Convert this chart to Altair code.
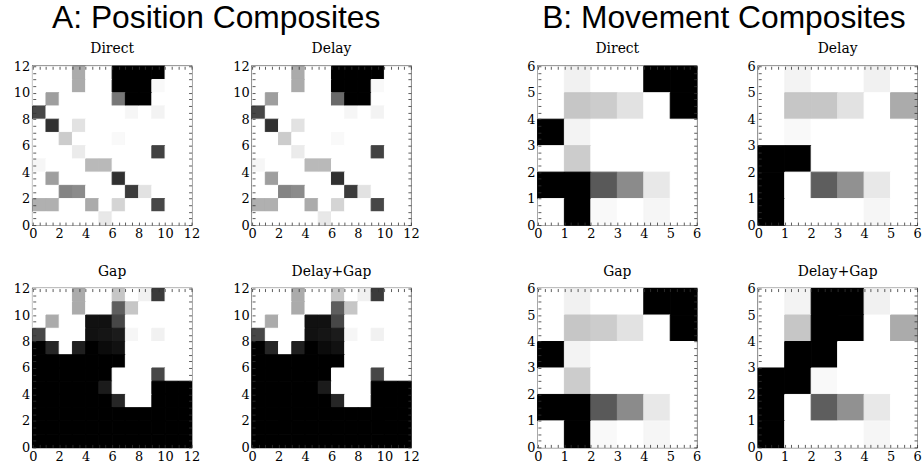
import altair as alt
import pandas as pd

# ---------------- data (rows listed from top row to bottom row) ----------------
A_direct = [
    [0, 0, 0, 0.3, 0, 0, 1, 1, 1, 1, 0, 0],
    [0, 0, 0, 0.3, 0, 0, 1, 1, 1, 0.02, 0, 0],
    [0, 0.35, 0, 0, 0, 0, 0.5, 1, 1, 0, 0, 0],
    [0.7, 0, 0, 0, 0, 0, 0, 0.03, 0, 0.04, 0, 0],
    [0, 0.8, 0, 0.1, 0, 0, 0, 0, 0, 0, 0, 0],
    [0, 0, 0.18, 0, 0, 0, 0.02, 0, 0, 0, 0, 0],
    [0, 0, 0, 0.07, 0, 0, 0, 0, 0, 0.72, 0, 0],
    [0.03, 0, 0, 0, 0.25, 0.25, 0, 0, 0, 0, 0, 0],
    [0, 0.35, 0, 0, 0, 0, 0.8, 0, 0, 0, 0, 0],
    [0, 0, 0.45, 0.42, 0, 0, 0, 0.75, 0.1, 0, 0, 0],
    [0.28, 0.28, 0, 0, 0.3, 0, 0.15, 0, 0, 0.7, 0, 0],
    [0, 0, 0, 0, 0, 0.08, 0, 0, 0, 0, 0, 0],
]
A_delay = [
    [0, 0, 0, 0.3, 0, 0, 1, 1, 1, 1, 0, 0],
    [0, 0, 0, 0.3, 0, 0, 1, 1, 1, 0.02, 0, 0],
    [0, 0.35, 0, 0, 0, 0, 0.55, 1, 1, 0, 0, 0],
    [0.7, 0, 0, 0, 0, 0, 0, 0.03, 0, 0.04, 0, 0],
    [0, 0.8, 0, 0.1, 0, 0, 0, 0, 0, 0, 0, 0],
    [0, 0, 0.18, 0, 0, 0, 0.02, 0, 0, 0, 0, 0],
    [0, 0, 0, 0.07, 0, 0, 0, 0, 0, 0.72, 0, 0],
    [0.03, 0, 0, 0, 0.25, 0.25, 0, 0, 0, 0, 0, 0],
    [0, 0.35, 0, 0, 0, 0, 0.8, 0, 0, 0, 0, 0],
    [0, 0, 0.45, 0.42, 0, 0, 0, 0.75, 0.1, 0, 0, 0],
    [0.28, 0.28, 0, 0, 0.3, 0, 0.15, 0, 0, 0.7, 0, 0],
    [0, 0, 0, 0, 0, 0.08, 0, 0, 0, 0, 0, 0],
]
A_gap = [
    [0, 0, 0, 0.3, 0, 0, 0.2, 0, 0.05, 0.75, 0, 0],
    [0, 0, 0, 0.3, 0, 0, 0.6, 0.2, 0, 0, 0, 0],
    [0, 0.3, 0, 0, 0.95, 0.95, 0.7, 0, 0, 0, 0, 0],
    [0.7, 0, 0, 0, 0.95, 0.93, 0.9, 0.03, 0, 0.05, 0, 0],
    [1, 0.85, 0, 0.88, 1, 0.97, 0.95, 0, 0, 0, 0, 0],
    [1, 1, 1, 1, 1, 1, 1, 0, 0, 0, 0, 0],
    [1, 1, 1, 1, 1, 1, 0, 0, 0, 0.7, 0, 0],
    [1, 1, 1, 1, 1, 0.9, 0, 0, 0, 1, 1, 1],
    [1, 1, 1, 1, 1, 1, 0.85, 0, 0, 1, 1, 1],
    [1, 1, 1, 1, 1, 1, 1, 1, 1, 1, 1, 1],
    [1, 1, 1, 1, 1, 1, 1, 1, 1, 1, 1, 1],
    [1, 1, 1, 1, 1, 1, 1, 1, 1, 1, 1, 1],
]
A_delaygap = [
    [0, 0, 0, 0.3, 0, 0, 0.2, 0, 0.05, 0.75, 0, 0],
    [0, 0, 0, 0.3, 0, 0, 0.6, 0.2, 0, 0, 0, 0],
    [0, 0.3, 0, 0, 0.95, 0.95, 0.7, 0, 0, 0, 0, 0],
    [0.7, 0, 0, 0, 0.95, 0.93, 0.9, 0.03, 0, 0.05, 0, 0],
    [1, 0.85, 0, 0.88, 1, 0.97, 0.95, 0, 0, 0, 0, 0],
    [1, 1, 1, 1, 1, 1, 1, 0, 0, 0, 0, 0],
    [1, 1, 1, 1, 1, 1, 0, 0, 0, 0.7, 0, 0],
    [1, 1, 1, 1, 1, 0.9, 0, 0, 0, 1, 1, 1],
    [1, 1, 1, 1, 1, 1, 0.85, 0, 0, 1, 1, 1],
    [1, 1, 1, 1, 1, 1, 1, 1, 1, 1, 1, 1],
    [1, 1, 1, 1, 1, 1, 1, 1, 1, 1, 1, 1],
    [1, 1, 1, 1, 1, 1, 1, 1, 1, 1, 1, 1],
]
B_direct = [
    [0, 0.05, 0, 0, 1, 1],
    [0, 0.2, 0.18, 0.1, 0, 1],
    [1, 0.04, 0, 0, 0, 0],
    [0, 0.18, 0, 0, 0, 0],
    [1, 1, 0.62, 0.42, 0.08, 0],
    [0, 1, 0.02, 0, 0.03, 0],
]
B_delay = [
    [0, 0.04, 0, 0, 0.05, 0],
    [0, 0.2, 0.2, 0.1, 0, 0.3],
    [0, 0.02, 0, 0, 0, 0],
    [1, 1, 0, 0, 0, 0],
    [1, 0, 0.6, 0.4, 0.08, 0],
    [1, 0, 0, 0, 0.03, 0],
]
B_gap = [
    [0, 0.05, 0, 0, 1, 1],
    [0, 0.2, 0.18, 0.1, 0, 1],
    [1, 0.04, 0, 0, 0, 0],
    [0, 0.18, 0, 0, 0, 0],
    [1, 1, 0.62, 0.42, 0.08, 0],
    [0, 1, 0.02, 0, 0.03, 0],
]
B_delaygap = [
    [0, 0.04, 1, 1, 0.05, 0],
    [0, 0.2, 1, 1, 0, 0.3],
    [0, 1, 1, 0, 0, 0],
    [1, 1, 0.02, 0, 0, 0],
    [1, 0, 0.6, 0.4, 0.08, 0],
    [1, 0, 0, 0, 0.03, 0],
]

A_ticks = [i * 0.5 for i in range(25)]
B_ticks = [round(i * 0.25, 2) for i in range(25)]

SERIF = "DejaVu Serif"
GRAY = alt.Scale(domain=[0, 1], range=["#ffffff", "#000000"])


def to_df(grid):
    n = len(grid)
    recs = []
    for r, row in enumerate(grid):
        y = n - 1 - r
        for x, v in enumerate(row):
            recs.append({"x": x, "x2": x + 1, "y": y, "y2": y + 1, "v": v})
    return pd.DataFrame(recs)


def panel(grid, title, ticks, label_step):
    n = len(grid)
    df = to_df(grid)
    expr = f"datum.value % {label_step} == 0 ? format(datum.value, 'd') : ''"
    common = dict(values=ticks, title=None, grid=False, domain=False,
                  tickSize=3, tickColor="#333333", tickWidth=0.8, offset=-3,
                  zindex=1)
    lab = dict(labelExpr=expr, labelFont=SERIF, labelFontSize=13,
               labelColor="black", labelPadding=3, labelFlush=False,
               labelOverlap=False)
    sc = alt.Scale(domain=[0, n], nice=False, zero=False)
    rects = alt.Chart(df).mark_rect(strokeWidth=1).encode(
        x=alt.X("x:Q", scale=sc, axis=alt.Axis(labelAngle=0, **common, **lab)),
        x2="x2:Q",
        y=alt.Y("y:Q", scale=sc, axis=alt.Axis(**common, **lab)),
        y2="y2:Q",
        color=alt.Color("v:Q", scale=GRAY, legend=None),
        stroke=alt.Stroke("v:Q", scale=GRAY, legend=None),
    )
    frame = alt.Chart(df).mark_rect(opacity=0).encode(
        x=alt.X("x:Q", scale=sc, axis=alt.Axis(orient="top", labels=False, **common)),
        x2="x2:Q",
        y=alt.Y("y:Q", scale=sc, axis=alt.Axis(orient="right", labels=False, **common)),
        y2="y2:Q",
    )
    return alt.layer(rects, frame).resolve_axis(
        x="independent", y="independent"
    ).properties(
        width=160, height=160,
        title=alt.Title(title, font=SERIF, fontSize=14, fontWeight="normal",
                        color="black", offset=4),
    )


main_title = dict(font="Liberation Sans", fontSize=32, fontWeight="normal",
                  color="black", anchor="middle", offset=7)

A = alt.vconcat(
    alt.hconcat(panel(A_direct, "Direct", A_ticks, 2),
                panel(A_delay, "Delay", A_ticks, 2), spacing=30),
    alt.hconcat(panel(A_gap, "Gap", A_ticks, 2),
                panel(A_delaygap, "Delay+Gap", A_ticks, 2), spacing=30),
    spacing=22,
    title=alt.Title("A: Position Composites", **main_title),
)
B = alt.vconcat(
    alt.hconcat(panel(B_direct, "Direct", B_ticks, 1),
                panel(B_delay, "Delay", B_ticks, 1), spacing=44),
    alt.hconcat(panel(B_gap, "Gap", B_ticks, 1),
                panel(B_delaygap, "Delay+Gap", B_ticks, 1), spacing=44),
    spacing=22,
    title=alt.Title("B: Movement Composites", **main_title),
)

chart = alt.hconcat(A, B, spacing=105).properties(
    padding={"left": 12, "top": 0, "right": 0, "bottom": 0},
    background="white",
).configure_view(stroke="black", strokeWidth=1.6)

chart.save("out.html", embed_options={"renderer": "svg", "actions": False})
